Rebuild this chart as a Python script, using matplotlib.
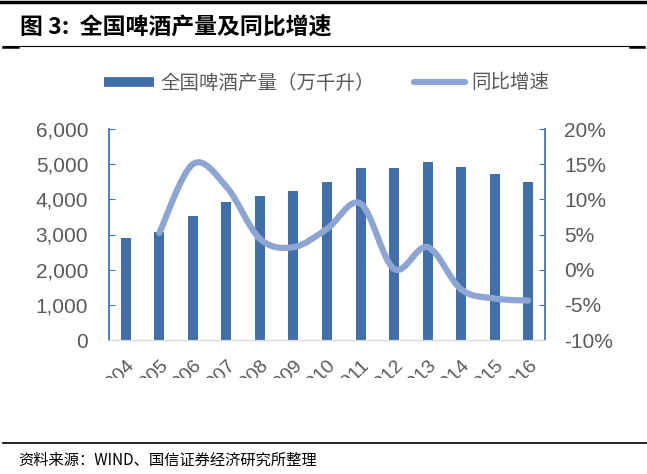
import matplotlib
matplotlib.use("Agg")
import matplotlib.pyplot as plt
import numpy as np
from matplotlib.path import Path
from matplotlib.patches import PathPatch
from matplotlib.lines import Line2D
from matplotlib.transforms import Bbox

plt.rcParams['font.family'] = ['Liberation Sans', 'Noto Sans CJK SC', 'DejaVu Sans']

# 数据
years = ['2004', '2005', '2006', '2007', '2008', '2009', '2010',
         '2011', '2012', '2013', '2014', '2015', '2016']
output = [2910, 3061, 3515, 3931, 4103, 4236, 4483, 4899, 4902, 5062, 4922, 4715, 4506]
growth_years = years[1:]
growth = [5.2, 15.0, 11.8, 4.4, 3.2, 5.8, 9.4, 0.1, 3.2, -2.8, -4.1, -4.4]

bar_color = '#416FAA'
line_color = '#8DA5D2'
grey = '#595959'

fig = plt.figure(figsize=(6.47, 4.74), dpi=100)
W, H = 647, 474
ax = fig.add_axes([109 / W, 1 - 340 / H, (545 - 109) / W, (340 - 129) / H])
ax2 = ax.twinx()

x = np.arange(len(years))
ax.bar(x, output, width=0.3, color=bar_color, zorder=2)
ax.set_xlim(-0.5, len(years) - 0.5)
ax.set_ylim(0, 6000)
ax.set_yticks(np.arange(0, 6001, 1000))
ax.set_yticklabels([f'{v:,}' for v in range(0, 6001, 1000)])
ax2.set_ylim(-10, 20)
ax2.set_yticks(np.arange(-10, 21, 5))
ax2.set_yticklabels([f'{v}%' for v in range(-10, 21, 5)])

# 平滑曲线 (Excel 风格 Bezier)
gx = np.array([years.index(y) for y in growth_years], dtype=float)
gy = np.array(growth, dtype=float)
pts = np.column_stack([gx, gy])
verts = [pts[0]]
codes = [Path.MOVETO]
n = len(pts)
for i in range(n - 1):
    p0 = pts[i - 1] if i > 0 else pts[i]
    p1 = pts[i]
    p2 = pts[i + 1]
    p3 = pts[i + 2] if i + 2 < n else pts[i + 1]
    c1 = p1 + (p2 - p0) / 6
    c2 = p2 - (p3 - p1) / 6
    verts += [c1, c2, p2]
    codes += [Path.CURVE4] * 3
ax2.add_patch(PathPatch(Path(verts, codes), facecolor='none', edgecolor=line_color,
                        lw=4.5, capstyle='round', joinstyle='round', zorder=3))

for a in (ax, ax2):
    a.spines['top'].set_visible(False)
    a.spines['left'].set_color('#4472C4')
    a.spines['right'].set_color('#4472C4')
    a.spines['bottom'].set_color('#D9D9D9')
    a.spines['left'].set_linewidth(1.3)
    a.spines['right'].set_linewidth(1.3)
ax2.spines['left'].set_visible(False)
ax.spines['right'].set_visible(False)

ax.tick_params(axis='y', direction='in', length=4, color='#4472C4', labelsize=15,
               labelcolor=grey, pad=15)
ax2.tick_params(axis='y', direction='in', length=4, color='#4472C4', labelsize=15,
                labelcolor=grey, pad=14)
ax.tick_params(axis='x', length=0, pad=12)
ax.set_xticks(x)
ax.set_xticklabels(years, rotation=45, ha='right', va='top', rotation_mode='anchor',
                   fontsize=14, color=grey)
clip = Bbox.from_extents(0, H - 378, W, H - 342)
for lab in ax.get_xticklabels():
    lab.set_clip_box(clip)
    lab.set_clip_on(True)

# 图例
handles = [Line2D([0], [0], color=bar_color, lw=7, solid_capstyle='butt'),
           Line2D([0], [0], color=line_color, lw=4.5, solid_capstyle='round')]
fig.legend(handles, ['全国啤酒产量（万千升）', '同比增速'], loc='center left',
           bbox_to_anchor=(86 / W, 1 - 83 / H), ncol=2, frameon=False,
           prop={'family': ['Noto Sans CJK SC'], 'size': 14}, labelcolor=grey,
           handlelength=2.6, handletextpad=0.35, columnspacing=2.0)

# 标题与来源
fig.text(20 / W, 1 - 28 / H, '图 3:  全国啤酒产量及同比增速', fontsize=16.5, fontweight='bold',
         family=['Noto Sans CJK SC'], va='center', ha='left')
fig.add_artist(Line2D([0, 1], [1 - 2 / H, 1 - 2 / H], color='black', lw=2.5))
fig.add_artist(Line2D([3 / W, 644 / W], [1 - 46 / H, 1 - 46 / H], color='black', lw=0.8))
fig.add_artist(Line2D([3 / W, 18 / W], [1 - 46.5 / H, 1 - 46.5 / H], color='black', lw=1.8))
fig.add_artist(Line2D([630 / W, 644 / W], [1 - 46.5 / H, 1 - 46.5 / H], color='black', lw=1.8))
fig.add_artist(Line2D([3 / W, 1], [1 - 443 / H, 1 - 443 / H], color='black', lw=1.2))
fig.text(18 / W, 1 - 460 / H, '资料来源：WIND、国信证券经济研究所整理', fontsize=11,
         family=['Noto Sans CJK SC'], va='center', ha='left')

fig.savefig('out.png', dpi=100)
